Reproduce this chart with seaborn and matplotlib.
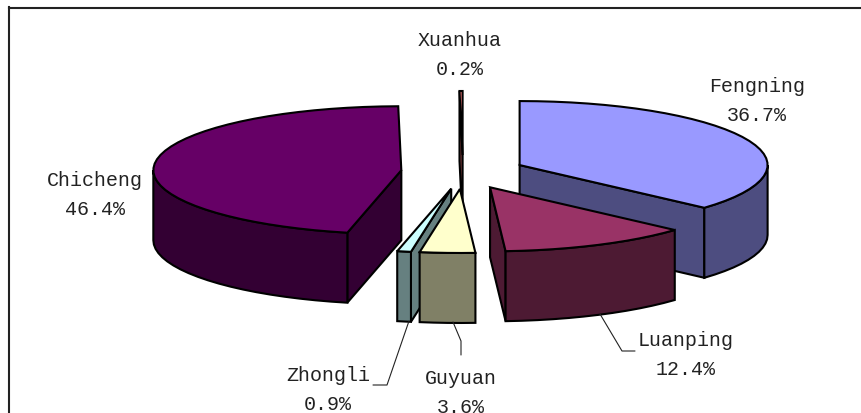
import numpy as np
import matplotlib
matplotlib.use("Agg")
import matplotlib.pyplot as plt
from matplotlib.patches import Polygon
import seaborn as sns

# Share of each county, clockwise from twelve o'clock
counties = ["Fengning", "Luanping", "Guyuan", "Zhongli", "Chicheng", "Xuanhua"]
shares = [36.7, 12.4, 3.6, 0.9, 46.4, 0.2]
top_colors = ["#9999FF", "#993366", "#FFFFCC", "#CCFFFF", "#660066", "#FF8080"]

# Label anchors (centre of the two-line label) and leader paths
label_pos = {
    "Fengning": (757, 101), "Luanping": (686, 355), "Guyuan": (461, 393),
    "Zhongli": (328, 390), "Chicheng": (95, 195), "Xuanhua": (460, 55),
}
leaders = {
    "Luanping": [(600, 315), (622, 352), (635, 352)],
    "Guyuan": [(453, 323), (461, 342), (461, 356)],
    "Zhongli": [(409, 322), (387, 386), (373, 386)],
}

# Projection of the tilted pie
CX, CY = 463.0, 173.0      # pie centre on the canvas
RX, RY = 248.0, 64.0       # ellipse radii of the top face
DEPTH = 70.0               # extrusion height
EXPLODE = (62.0, 17.0)     # outward shift of every slice
EDGE = 1.5

sns.set_theme(style="white")
palette = sns.color_palette(top_colors)
plt.rcParams["font.family"] = ["Liberation Mono", "DejaVu Sans"]

fig = plt.figure(figsize=(8.61, 4.14), dpi=100, facecolor="white")
ax = fig.add_axes([8.5 / 861, 0, 1 - 8.5 / 861, 1 - 8.5 / 414])
ax.set_xlim(8.5, 861)
ax.set_ylim(414, 8.5)
ax.set_xticks([])
ax.set_yticks([])
sns.despine(ax=ax, top=False, left=False, right=True, bottom=True)
for side in ("top", "left"):
    ax.spines[side].set_color("#222222")
    ax.spines[side].set_linewidth(1.5)


def face(points, color, z):
    ax.add_patch(Polygon(points, closed=True, facecolor=color, edgecolor="black",
                         linewidth=EDGE, joinstyle="miter", zorder=z))


def rim(apex, t):
    return np.column_stack([apex[0] + RX * np.sin(t), apex[1] - RY * np.cos(t)])


total = sum(shares)
edges = np.radians(np.concatenate([[0], np.cumsum(shares)]) / total * 360)
# Back-to-front painting order keeps the nearer slices on top
order = ["Xuanhua", "Fengning", "Chicheng", "Zhongli", "Guyuan", "Luanping"]

for z, name in enumerate(order):
    i = counties.index(name)
    start, stop = edges[i], edges[i + 1]
    mid = (start + stop) / 2
    apex = np.array([CX + EXPLODE[0] * np.sin(mid), CY - EXPLODE[1] * np.cos(mid)])
    top = palette[i]
    dark = tuple(c * 0.5 for c in top)
    down = np.array([0, DEPTH])
    base = z * 10

    # Radial cut faces that turn toward the viewer
    if -np.sin(start) > 1e-6:
        p = rim(apex, np.array([start]))[0]
        face([apex, p, p + down, apex + down], dark, base + 1)
    if np.sin(stop) > 1e-6:
        p = rim(apex, np.array([stop]))[0]
        face([apex, p, p + down, apex + down], dark, base + 2)

    # Outer wall, front half of the ellipse only
    lo, hi = max(start, np.pi / 2), min(stop, 3 * np.pi / 2)
    if hi > lo:
        t = np.linspace(lo, hi, max(2, int(np.degrees(hi - lo) / 4) + 2))
        arc = rim(apex, t)
        face(np.vstack([arc, (arc + down)[::-1]]), dark, base + 3)

    # Top face
    t = np.linspace(start, stop, max(2, int(np.degrees(stop - start) / 4) + 2))
    face(np.vstack([apex, rim(apex, t)]), top, base + 4)

for name, path in leaders.items():
    xs, ys = zip(*path)
    ax.plot(xs, ys, color="#222222", lw=0.8, zorder=200)

for name, value in zip(counties, shares):
    x, y = label_pos[name]
    ax.text(x, y - 14.5, name, ha="center", va="center", fontsize=14.4,
            color="#222222", zorder=300)
    ax.text(x, y + 14.5, f"{value:.1f}%", ha="center", va="center", fontsize=14.4,
            color="#222222", zorder=300, clip_on=False)

fig.savefig("out.png", dpi=100)
